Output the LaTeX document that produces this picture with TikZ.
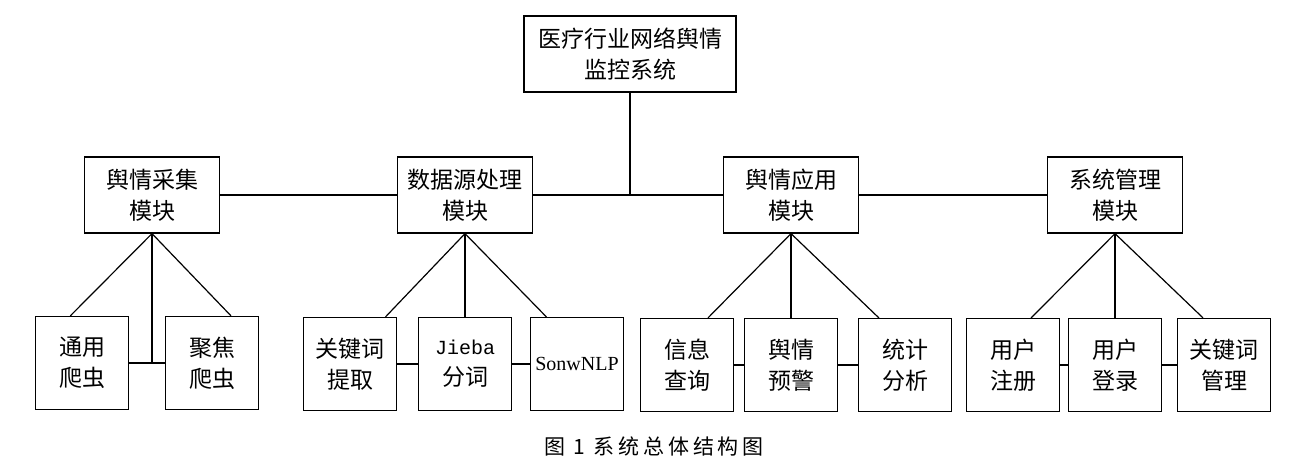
\documentclass[tikz,border=0pt]{standalone}
\usepackage{fontspec}
\newfontfamily\cjk{Noto Sans CJK SC}
\newfontfamily\cjkspaced[LetterSpace=18]{Noto Sans CJK SC}
\newfontfamily\latinmono{Liberation Mono}
\newfontfamily\latinserif{Liberation Serif}
\begin{document}
\begin{tikzpicture}[x=1pt, y=-1pt, line width=1.2pt,
  box/.style={rectangle, draw, align=center, inner sep=0pt, font=\cjk\fontsize{23}{31}\selectfont},
  modbox/.style={box, minimum width=135pt, minimum height=76pt},
  leafbox/.style={box, minimum width=93pt, minimum height=93pt}]
\useasboundingbox (0,0) rectangle (1300,471);
\node [box, minimum width=212pt, minimum height=76pt] (sys) at (630,54) {医疗行业网络舆情\\监控系统};
\node [modbox] (collect) at (152,195) {舆情采集\\模块};
\node [modbox] (process) at (465,195) {数据源处理\\模块};
\node [modbox] (apply) at (791,195) {舆情应用\\模块};
\node [modbox] (manage) at (1115,195) {系统管理\\模块};
\node [leafbox] (crawlA) at (82,363) {通用\\爬虫};
\node [leafbox] (crawlB) at (212,363) {聚焦\\爬虫};
\node [leafbox] (keyword) at (350,364) {关键词\\提取};
\node [leafbox] (jieba) at (465,364) {{\latinmono\fontsize{20}{31}\selectfont Jieba}\\分词};
\node [leafbox, font=\latinserif\fontsize{20}{31}\selectfont] (snlp) at (577,364) {SonwNLP};
\node [leafbox] (query) at (687,365) {信息\\查询};
\node [leafbox] (warn) at (791,365) {舆情\\预警};
\node [leafbox] (stat) at (905,365) {统计\\分析};
\node [leafbox] (reg) at (1013,365) {用户\\注册};
\node [leafbox] (login) at (1115,365) {用户\\登录};
\node [leafbox] (kwman) at (1224,365) {关键词\\管理};
\node [font=\cjkspaced\fontsize{21}{21}\selectfont] (caption) at (654,446) {图 1 系统总体结构图};
\draw (sys) -- (sys |- apply.west);
\draw (collect) -- (process);
\draw (process) -- (apply);
\draw (apply) -- (manage);
\draw (collect.south) -- (crawlA.104);
\draw (collect.south) -- (crawlB.68);
\draw (collect.south) -- (collect |- crawlA.east);
\draw (crawlA) -- (crawlB);
\draw (process.south) -- (keyword.53);
\draw (process.south) -- (jieba.north);
\draw (process.south) -- (snlp.123);
\draw (keyword) -- (jieba);
\draw (jieba) -- (snlp);
\draw (apply.south) -- (query.66);
\draw (apply.south) -- (warn.north);
\draw (apply.south) -- (stat.119);
\draw (query) -- (warn);
\draw (warn) -- (stat);
\draw (manage.south) -- (reg.69);
\draw (manage.south) -- (login.north);
\draw (manage.south) -- (kwman.114);
\draw (reg) -- (login);
\draw (login) -- (kwman);
\end{tikzpicture}
\end{document}
